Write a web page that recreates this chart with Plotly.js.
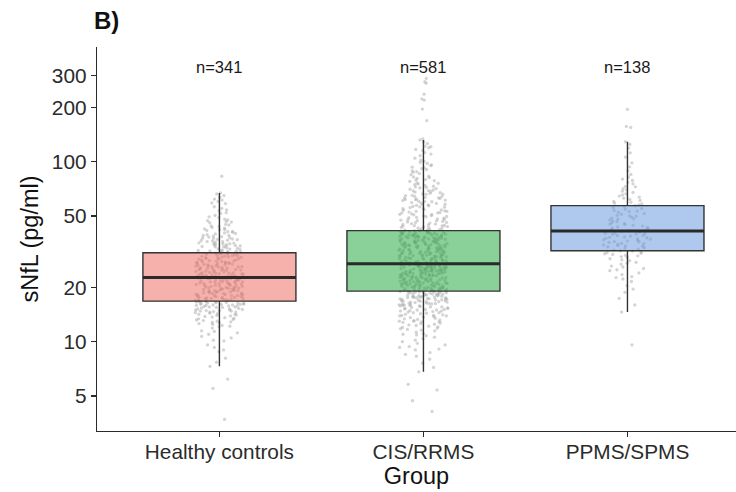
<!DOCTYPE html>
<html>
<head>
<meta charset="utf-8">
<script src="https://cdn.plot.ly/plotly-3.0.1.min.js"></script>
<style>
  html, body { margin: 0; padding: 0; background: #ffffff; }
  #chart { width: 736px; height: 492px; }
</style>
</head>
<body>
<div id="chart"></div>
<script>
// Serum neurofilament light (sNfL) by diagnostic group
const groups = ['Healthy controls', 'CIS/RRMS', 'PPMS/SPMS'];

// Box summaries per group (pg/ml)
const lowerWhisker = [7.3, 6.8, 14.6];
const q1 = [16.8, 19.1, 32.0];
const medians = [22.7, 27.1, 41.2];
const q3 = [31.2, 41.4, 57.0];
const upperWhisker = [67.0, 132.0, 129.0];

// Individual measurements (pg/ml)
const healthyValues = [
  3.7, 5.5, 6.2, 7.3, 7.7, 8.1, 8.8, 9.0, 9.6, 10.1, 10.2, 10.7, 11.0, 11.4, 11.5, 11.9, 12.3,
  12.2, 12.6, 12.9, 12.8, 13.2, 13.0, 13.5, 13.7, 13.4, 13.9, 14.2, 14.0, 14.4, 14.1, 14.6, 14.8, 14.5,
  14.9, 15.2, 14.7, 15.0, 15.4, 15.1, 15.6, 15.3, 15.8, 15.5, 15.7, 16.1, 15.9, 16.0, 16.3, 15.6, 16.2,
  16.4, 16.0, 16.6, 16.5, 15.8, 16.7, 16.2, 16.8, 16.4, 16.6, 12.5, 13.8, 14.3, 11.2, 10.5, 9.3, 13.1,
  15.2, 14.8, 16.9, 16.1, 15.5, 14.6, 13.6, 12.1, 16.3, 15.9, 14.2, 15.0, 16.5, 13.3, 12.7, 16.7, 14.9,
  17.1, 17.4, 16.9, 17.8, 18.2, 17.6, 18.5, 18.0, 19.1, 18.7, 19.4, 18.3, 19.8, 19.2, 20.1, 19.6, 20.4,
  20.0, 20.8, 21.3, 20.6, 21.0, 21.7, 22.1, 21.5, 22.4, 21.9, 22.6, 20.3, 17.3, 18.9, 19.5, 17.9, 18.4,
  21.2, 22.0, 19.0, 17.0, 20.7, 18.1, 21.8, 19.9, 17.5, 22.5, 20.2, 18.6, 21.4, 19.3, 17.7, 20.9, 22.3,
  18.8, 21.1, 17.2, 19.7, 22.2, 20.5, 18.2, 21.6, 17.4, 19.2, 22.7, 20.0, 18.5, 21.0, 17.8, 19.6, 20.6,
  22.4, 18.0, 21.3, 17.1, 19.4, 20.8, 22.6, 18.7, 21.9, 17.6, 20.3, 19.0, 22.1, 18.3, 21.5, 17.3, 19.9,
  22.8, 23.4, 24.1, 23.0, 24.7, 25.3, 23.8, 26.0, 24.4, 25.8, 27.1, 26.5, 23.2, 28.0, 25.0, 27.6, 29.2,
  24.0, 26.3, 28.7, 23.6, 30.1, 25.6, 27.3, 29.8, 24.9, 26.8, 31.0, 23.3, 28.4, 25.2, 30.6, 26.1, 27.9,
  22.9, 29.5, 24.6, 27.0, 30.4, 23.9, 26.6, 28.9, 25.5, 31.2, 24.2, 27.4, 29.0, 23.5, 26.2, 30.8, 25.1,
  28.2, 23.1, 27.7, 24.8, 29.6, 26.4, 22.9, 30.2, 25.7, 28.5, 23.7, 27.2, 24.3, 31.1, 26.9, 29.3, 25.4,
  23.4, 28.8, 24.5, 27.5, 30.0, 25.9, 23.0, 29.9, 26.7, 24.0, 28.1, 30.7, 25.0, 27.8, 23.8, 29.4, 26.0,
  31.4, 32.0, 31.8, 32.7, 33.5, 32.3, 34.2, 33.0, 35.1, 34.6, 31.6, 36.0, 33.8, 35.7, 32.5, 37.2, 34.0,
  36.6, 38.1, 31.9, 35.4, 39.0, 33.2, 37.8, 40.2, 34.9, 36.3, 41.5, 32.8, 38.6, 35.0, 42.3, 33.6, 39.7,
  37.0, 43.6, 34.4, 40.8, 36.9, 44.9, 32.1, 38.3, 46.2, 35.9, 41.0, 33.9, 47.5, 37.5, 42.8, 39.3, 48.9,
  34.7, 44.0, 36.4, 50.3, 31.3, 40.5, 45.8, 38.9, 52.1, 35.3, 43.1, 54.0, 41.9, 56.2, 37.6, 47.0, 58.5,
  49.4, 60.1, 44.5, 62.0, 39.9, 51.6, 63.4, 46.6, 55.1, 64.8, 42.0, 59.0, 66.2, 53.3, 48.0, 61.2, 67.0,
  83.0
];

const relapsingValues = [
  4.1, 4.7, 5.4, 5.8, 6.8, 7.2, 7.6, 8.0, 8.3, 8.7, 9.1, 9.4, 9.0, 9.8, 10.2, 8.5, 10.6, 9.6, 10.9, 11.3,
  10.4, 11.7, 12.0, 11.1, 12.4, 10.8, 12.7, 11.5, 13.0, 12.2, 13.3, 11.9, 13.6, 12.5, 13.9, 12.9, 14.2, 13.1, 14.5, 13.7,
  14.8, 14.0, 15.1, 13.4, 15.3, 14.4, 15.6, 14.6, 15.8, 12.1, 16.0, 14.9, 16.2, 15.2, 16.4, 11.6, 16.6, 15.5, 16.8, 15.0,
  17.0, 16.1, 17.2, 15.7, 17.4, 16.3, 17.6, 15.9, 17.8, 16.5, 18.0, 16.7, 18.2, 14.3, 18.4, 16.9, 18.6, 17.1, 18.8, 17.3,
  19.0, 17.5, 18.9, 17.7, 18.7, 17.9, 18.5, 18.1, 18.3, 13.8, 19.1, 12.8, 17.6, 14.7, 18.2, 15.4, 16.8, 13.2, 17.9, 15.9,
  18.6, 14.1, 19.0, 16.0, 17.3, 12.6, 18.8, 15.1, 16.6, 10.0, 18.4, 14.5, 17.1, 11.8, 19.1, 13.5, 16.3, 18.0, 15.6, 17.7,
  12.3, 18.9, 16.4, 14.8, 17.5, 11.0, 18.5, 15.3, 13.9, 18.1, 16.9, 12.9, 17.8, 14.0, 19.0, 15.8, 16.2, 18.7, 13.0, 17.2,
  9.3, 18.3, 15.0, 16.7, 17.4,
  19.2, 19.5, 20.0, 19.8, 20.4, 21.0, 20.7, 21.5, 22.1, 21.8, 22.6, 23.0, 22.4, 23.5, 24.1, 23.8, 24.6, 25.2, 24.9, 25.7,
  26.3, 25.9, 26.8, 27.0, 19.3, 20.2, 21.2, 22.0, 23.2, 24.3, 25.0, 26.0, 26.6, 19.7, 20.8, 21.6, 22.8, 23.9, 24.5, 25.5,
  26.9, 19.4, 20.5, 21.4, 22.3, 23.3, 24.0, 25.1, 26.2, 20.1, 21.1, 22.2, 23.6, 24.8, 25.8, 26.5, 19.9, 21.9, 23.1, 24.4,
  25.4, 26.7, 20.3, 21.3, 22.5, 23.7, 24.7, 25.6, 27.1, 19.6, 20.6, 21.7, 22.9, 23.4, 24.2, 25.3, 26.4, 19.1, 20.9, 22.7,
  24.1, 26.1, 19.8, 21.0, 23.0, 25.0, 26.9, 20.4, 22.0, 24.6, 26.3, 19.5, 21.5, 23.5, 25.7, 20.0, 22.4, 24.9, 27.0, 21.2,
  23.8, 26.0, 19.3, 22.2, 25.2, 20.7, 23.3, 26.6, 21.8, 24.3, 19.9, 22.6, 25.9, 20.5, 23.9, 26.8, 21.4, 24.8, 19.2, 22.9,
  25.5, 20.2, 23.6, 26.2, 21.1, 24.4, 19.7, 22.1, 25.8, 20.9, 23.2, 26.7, 21.7, 24.0, 19.4, 22.5, 25.3, 20.8, 23.7, 26.5,
  21.3, 24.7, 20.1, 22.8, 25.1,
  27.3, 28.0, 27.7, 28.6, 29.2, 28.9, 29.8, 30.5, 30.1, 31.2, 31.9, 31.5, 32.6, 33.3, 32.9, 34.1, 34.8, 34.4, 35.6, 36.4,
  35.9, 37.2, 38.0, 37.6, 38.9, 39.7, 39.2, 40.6, 41.2, 40.1, 27.5, 28.3, 29.5, 30.8, 32.2, 33.7, 35.2, 36.8, 38.4, 40.0,
  27.9, 29.0, 30.3, 31.7, 33.0, 34.6, 36.1, 37.9, 39.5, 41.0, 28.4, 29.6, 31.0, 32.4, 33.9, 35.4, 37.0, 38.7, 40.4, 27.2,
  28.8, 30.0, 31.4, 32.8, 34.3, 35.8, 37.4, 39.1, 40.8, 28.1, 29.4, 30.7, 32.0, 33.5, 35.0, 36.6, 38.2, 39.9, 41.4, 27.6,
  29.1, 30.4, 31.8, 33.2, 34.7, 36.2, 37.8, 39.4, 27.8, 29.7, 31.3, 32.7, 34.2, 35.7, 37.3, 38.8, 40.5, 28.5, 30.2, 31.6,
  33.1, 34.9, 36.5, 38.1, 39.8, 27.4, 29.3, 30.9, 32.5, 34.0, 35.5, 37.1, 38.6, 40.3, 28.2, 29.9, 31.1, 33.6, 35.3, 36.9,
  38.5, 40.9, 27.1, 28.7, 30.6, 32.3, 34.5, 36.0, 37.7, 39.3, 41.1, 28.9, 31.4, 33.4, 35.1, 37.5, 39.0, 27.9, 30.1, 32.1,
  34.0, 36.3, 38.3, 40.2, 29.8,
  41.6, 42.3, 43.0, 43.8, 42.7, 44.5, 45.3, 44.1, 46.2, 47.0, 45.8, 48.1, 49.0, 47.6, 50.2, 51.3, 49.6, 52.5, 53.8, 51.9,
  55.0, 56.4, 54.2, 57.9, 59.3, 56.9, 60.8, 62.4, 58.6, 64.1, 65.9, 61.7, 67.8, 69.6, 63.3, 71.5, 73.8, 66.7, 76.0, 78.4,
  42.0, 43.4, 44.8, 46.6, 48.5, 50.7, 52.9, 55.6, 58.0, 60.3, 63.0, 66.2, 69.0, 72.4, 75.2, 79.5, 83.0, 87.4, 91.6, 96.0,
  41.9, 44.2, 47.3, 50.0, 53.3, 57.2, 61.2, 65.0, 70.3, 74.6, 80.8, 85.9, 93.2, 100.5, 108.0, 115.4, 122.0, 128.7, 132.0, 42.6,
  45.0, 48.8, 52.0, 56.1, 59.9, 64.7, 68.3, 73.1, 77.7, 82.2, 89.0, 97.8, 104.6, 112.3, 119.5, 43.2, 46.9, 51.0, 54.8, 58.9,
  62.8, 67.3, 72.0, 81.4, 90.5, 102.1, 117.0, 44.0, 47.8, 53.0, 57.5, 62.0, 70.9, 84.6, 95.1, 110.2, 41.5, 49.5, 55.9, 60.0,
  66.0, 75.9, 88.0, 99.3, 126.0, 43.6, 46.0, 50.9, 54.0, 61.5, 68.8, 78.9, 134.0, 169.0, 196.0, 220.0, 223.0, 237.0, 273.0, 278.0,
  290.0, 45.6, 52.2, 64.0, 92.3, 121.0
];

const progressiveValues = [
  9.6, 14.6, 16.0, 17.4, 18.8, 19.6, 20.5, 21.6, 22.3, 23.0, 24.1, 24.8, 25.5, 26.3, 27.0, 27.6, 28.2,
  28.9, 29.4, 30.0, 30.5, 31.0, 31.5, 31.9, 22.7, 26.0, 28.5, 30.8, 25.1, 29.7, 27.3, 31.3, 23.6, 30.2,
  32.3, 33.1, 34.0, 34.8, 35.6, 36.5, 37.3, 38.2, 39.0, 39.9, 40.7, 32.7, 33.6, 34.4, 35.2, 36.0, 36.9,
  37.8, 38.6, 39.5, 40.3, 41.1, 32.0, 33.9, 35.9, 37.1, 38.9, 40.0, 34.2, 36.3, 38.0, 39.7, 33.3, 35.0, 37.5,
  41.6, 42.5, 43.4, 44.3, 45.3, 46.4, 47.5, 48.6, 49.8, 51.0, 52.3, 53.6, 55.0, 56.5, 42.0, 43.9, 45.8,
  47.9, 50.3, 52.8, 55.7, 41.3, 44.8, 48.2, 51.6, 54.3, 56.9, 42.9, 46.9, 50.0, 53.1, 43.1, 49.2, 45.0,
  57.5, 58.8, 60.2, 61.8, 63.5, 65.4, 67.5, 69.8, 72.5, 75.3, 78.6, 82.2, 85.0, 89.0, 93.6, 98.5, 106.0,
  112.0, 119.0, 125.0, 129.0, 155.0, 157.0, 195.0, 59.5, 62.7, 66.3, 70.9, 73.0, 76.8, 58.2, 64.4, 68.6,
  80.1, 60.9
];

const groupValues = [healthyValues, relapsingValues, progressiveValues];
const boxFills = ['rgba(240,100,92,0.50)', 'rgba(28,165,60,0.52)', 'rgba(100,150,222,0.52)'];

const BOX_WIDTH = 0.75;
const LABEL_LEVEL = 336;   // height (pg/ml) of the group-size labels
const FONT = 'Liberation Sans, Arial, Helvetica, sans-serif';

const traces = [];

// jittered raw measurements, drawn first so the translucent boxes sit over them
groupValues.forEach((vals, i) => {
  traces.push({
    type: 'box',
    x: vals.map(() => groups[i]),
    y: vals,
    boxpoints: 'all',
    jitter: 0.32,
    pointpos: 0,
    width: BOX_WIDTH,
    fillcolor: 'rgba(0,0,0,0)',
    line: { width: 0, color: 'rgba(0,0,0,0)' },
    marker: { size: 3.3, color: 'rgba(172,172,172,0.52)' },
    hoverinfo: 'skip',
    showlegend: false
  });
});

// boxes from the group summaries
groups.forEach((g, i) => {
  traces.push({
    type: 'box',
    x: [g],
    q1: [q1[i]],
    median: [medians[i]],
    q3: [q3[i]],
    lowerfence: [lowerWhisker[i]],
    upperfence: [upperWhisker[i]],
    width: BOX_WIDTH,
    whiskerwidth: 0,
    fillcolor: boxFills[i],
    line: { color: '#333333', width: 1.4 },
    hoverinfo: 'skip',
    showlegend: false
  });
});

// heavier median bars
traces.push({
  type: 'box',
  x: groups,
  q1: medians,
  median: medians,
  q3: medians,
  lowerfence: medians,
  upperfence: medians,
  width: BOX_WIDTH,
  whiskerwidth: 0,
  fillcolor: 'rgba(0,0,0,0)',
  line: { color: '#2a2a2a', width: 3 },
  hoverinfo: 'skip',
  showlegend: false
});

const tickVals = [5, 10, 20, 50, 100, 200, 300];

const annotations = groups.map((g, i) => ({
  x: i,
  y: Math.log10(LABEL_LEVEL),
  xref: 'x',
  yref: 'y',
  text: 'n=' + groupValues[i].length,
  showarrow: false,
  font: { family: FONT, size: 16.5, color: '#1a1a1a' }
}));

const layout = {
  width: 736,
  height: 492,
  margin: { l: 97, r: 0, t: 47, b: 61 },
  paper_bgcolor: '#ffffff',
  plot_bgcolor: '#ffffff',
  boxmode: 'overlay',
  showlegend: false,
  font: { family: FONT, color: '#1a1a1a' },
  title: {
    text: '<b>B)</b>',
    font: { family: FONT, size: 24, color: '#111111' },
    x: 94 / 736,
    xanchor: 'left',
    xref: 'container',
    y: 1 - 21 / 492,
    yref: 'container',
    yanchor: 'middle'
  },
  xaxis: {
    type: 'category',
    categoryorder: 'array',
    categoryarray: groups,
    range: [-0.6, 2.532],
    showgrid: false,
    zeroline: false,
    showline: true,
    linecolor: '#2b2b2b',
    linewidth: 1.3,
    ticks: 'outside',
    ticklen: 5,
    tickwidth: 1.3,
    tickcolor: '#2b2b2b',
    ticklabelstandoff: -3,
    tickfont: { family: FONT, size: 20.8, color: '#2b2b2b' },
    title: { text: 'Group', font: { family: FONT, size: 23.5, color: '#111111' }, standoff: 2 },
    automargin: false,
    fixedrange: true
  },
  yaxis: {
    type: 'log',
    range: [0.504, 2.637],
    tickvals: tickVals,
    ticktext: tickVals.map(String),
    showgrid: false,
    zeroline: false,
    showline: true,
    linecolor: '#2b2b2b',
    linewidth: 1.3,
    ticks: 'outside',
    ticklen: 5,
    tickwidth: 1.3,
    tickcolor: '#2b2b2b',
    tickfont: { family: FONT, size: 20.8, color: '#2b2b2b' },
    title: { text: 'sNfL (pg/ml)', font: { family: FONT, size: 23.5, color: '#111111' }, standoff: 6 },
    automargin: false,
    fixedrange: true
  },
  annotations: annotations
};

Plotly.newPlot('chart', traces, layout, { staticPlot: true, displayModeBar: false });
</script>
</body>
</html>
